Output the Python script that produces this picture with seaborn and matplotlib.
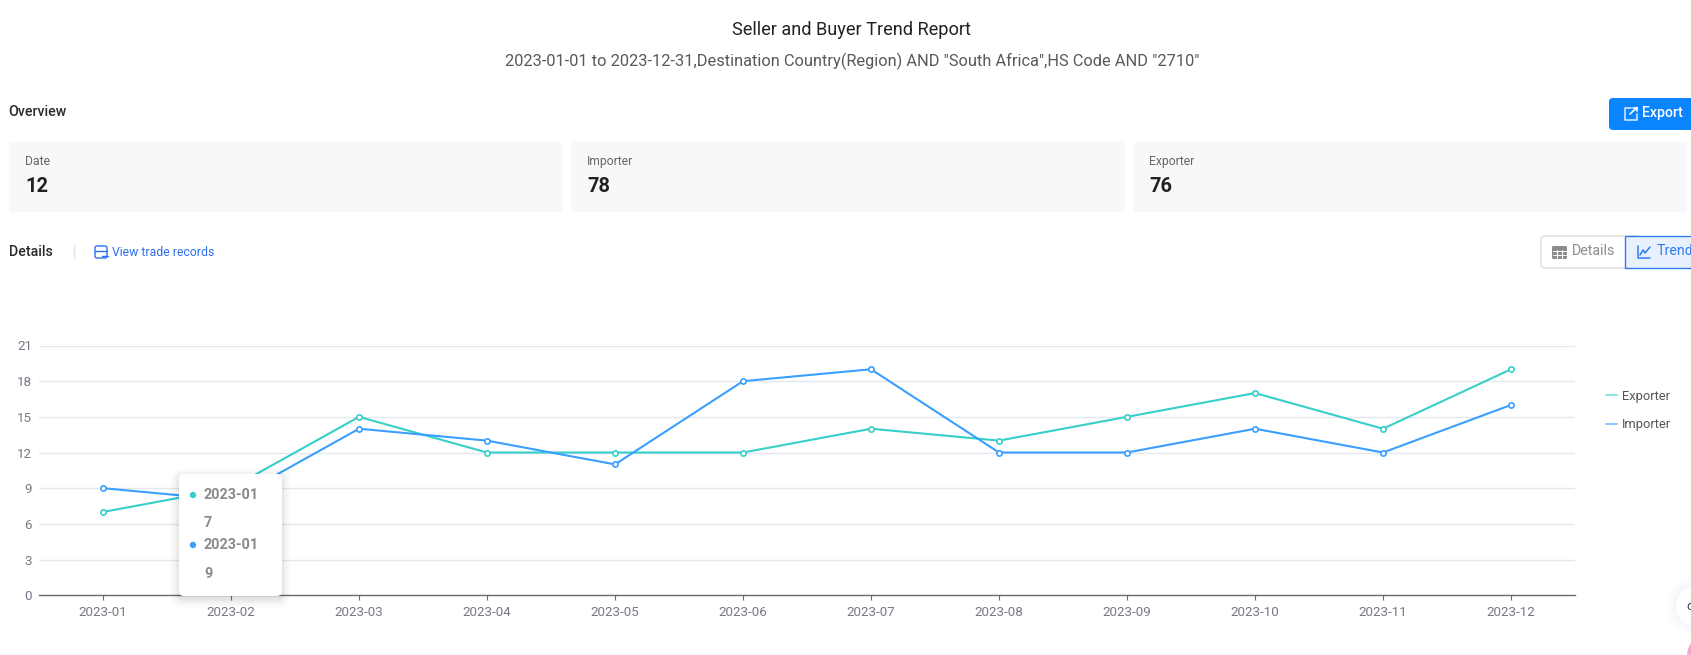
import matplotlib
matplotlib.use("Agg")
import matplotlib.pyplot as plt
from matplotlib.lines import Line2D
from matplotlib.patches import Circle, Ellipse, FancyBboxPatch, Rectangle
import pandas as pd
import seaborn as sns

months = ["2023-01", "2023-02", "2023-03", "2023-04", "2023-05", "2023-06",
          "2023-07", "2023-08", "2023-09", "2023-10", "2023-11", "2023-12"]
exporter = [7, 9, 15, 12, 12, 12, 14, 13, 15, 17, 14, 19]
importer = [9, 8, 14, 13, 11, 18, 19, 12, 12, 14, 12, 16]
y_ticks = [0, 3, 6, 9, 12, 15, 18, 21]
card_labels = ["Date", "Importer", "Exporter"]
card_values = ["12", "78", "76"]

WIDTH, HEIGHT = 1691, 655
TEAL = "#36cfc9"
BLUE = "#3a9fff"
GRID = "#e4e7f0"
AXIS_TEXT = "#777a85"

sns.set_theme(style="white")
plt.rcParams["font.family"] = ["Roboto", "DejaVu Sans"]

fig = plt.figure(figsize=(WIDTH / 100, HEIGHT / 100), dpi=100, facecolor="white")

# Chart area, placed in pixels
left, right, top, bottom = 39, 1575, 345.5, 595.2
ax = fig.add_axes([left / WIDTH, 1 - bottom / HEIGHT,
                   (right - left) / WIDTH, (bottom - top) / HEIGHT])

df = pd.DataFrame({
    "month": months * 2,
    "count": exporter + importer,
    "series": ["Exporter"] * len(exporter) + ["Importer"] * len(importer),
})
sns.lineplot(data=df, x="month", y="count", hue="series", sort=False, errorbar=None,
             hue_order=["Exporter", "Importer"], palette=[TEAL, BLUE],
             marker="o", markersize=3.8, linewidth=1.5, ax=ax, legend=False)
for line in ax.lines:
    line.set_markerfacecolor("white")
    line.set_markeredgecolor(line.get_color())
    line.set_markeredgewidth(1.2)
    line.set_zorder(3)

ax.set_xlim(-0.5, len(months) - 0.5)
ax.set_ylim(y_ticks[0], y_ticks[-1])
ax.set_yticks(y_ticks)
ax.set_xlabel("")
ax.set_ylabel("")
ax.grid(axis="y", color=GRID, linewidth=1)
ax.set_axisbelow(True)
for name in ["top", "left", "right"]:
    ax.spines[name].set_visible(False)
ax.spines["bottom"].set_color("#6a6c74")
ax.spines["bottom"].set_linewidth(1)
ax.tick_params(axis="x", length=3.5, width=0.8, color="#6a6c74", labelcolor=AXIS_TEXT,
               labelsize=9.6, pad=4, bottom=True)
ax.tick_params(axis="y", length=0, labelcolor=AXIS_TEXT, labelsize=9.6, pad=5)

legend_handles = [Line2D([], [], color=TEAL, alpha=0.55, linewidth=1.5),
                  Line2D([], [], color=BLUE, alpha=0.55, linewidth=1.5)]
ax.legend(legend_handles, ["Exporter", "Importer"], loc="upper left", frameon=False,
          bbox_to_anchor=(1603 / WIDTH, 1 - 387 / HEIGHT), bbox_transform=fig.transFigure,
          handlelength=0.85, handletextpad=0.42, labelspacing=1.2,
          fontsize=9.3, labelcolor="#555555", borderpad=0.2, borderaxespad=0)

# Page furniture on a full figure overlay, in pixel coordinates
ui = fig.add_axes([0, 0, 1, 1], zorder=5)
ui.set_xlim(0, WIDTH)
ui.set_ylim(HEIGHT, 0)
ui.axis("off")


def box(x0, y0, x1, y1, radius=4, **kwargs):
    patch = FancyBboxPatch((x0 + radius, y0 + radius), x1 - x0 - 2 * radius, y1 - y0 - 2 * radius,
                           boxstyle=f"round,pad={radius},rounding_size={radius}", **kwargs)
    ui.add_patch(patch)
    return patch


def polyline(xs, ys, color, lw=1.0):
    ui.plot(xs, ys, color=color, linewidth=lw, solid_capstyle="round", solid_joinstyle="round")


ui.text(852, 30, "Seller and Buyer Trend Report", ha="center", va="center",
        fontsize=13.1, color="#222222")
ui.text(852, 61, '2023-01-01 to 2023-12-31,Destination Country(Region) AND "South Africa",HS Code AND "2710"',
        ha="center", va="center", fontsize=11.8, color="#595959")
ui.text(8, 112, "Overview", va="center", fontsize=10.2, color="#2a2a2a", fontweight="medium")

# Overview cards
card_spans = [(9, 563), (571, 1125), (1133, 1687)]
for (x0, x1), label, value in zip(card_spans, card_labels, card_values):
    box(x0, 142, x1, 212, radius=4, facecolor="#f8f8fa", edgecolor="none")
    ui.text(x0 + 16, 165, label, va="baseline", fontsize=8.7, color="#666666")
    ui.text(x0 + 16, 187, value, va="center", fontsize=14.4, color="#222222", fontweight="semibold")

# Export button
box(1609, 98, 1720, 130, radius=4, facecolor="#0a84ff", edgecolor="none")
ui.text(1642, 113, "Export", va="center", fontsize=10.2, color="white", fontweight="medium")
polyline([1631, 1625, 1625, 1637, 1637], [108, 108, 120, 120, 114], "#cfe6ff", 1.2)
polyline([1630, 1637], [114, 107.5], "white", 1.2)
polyline([1633, 1637, 1637], [107.5, 107.5, 111], "white", 1.2)

# Details heading
ui.text(8.5, 252, "Details", va="center", fontsize=10.2, color="#2a2a2a", fontweight="medium")
ui.plot([73.5, 73.5], [245, 258], color="#e3e3e3", linewidth=1)
ui.text(112, 252, "View trade records", va="center", fontsize=8.8, color="#2f6fed")
box(95, 246, 107, 258, radius=2, facecolor="none", edgecolor="#2f6fed", linewidth=1)
polyline([95, 107], [250.5, 250.5], "#2f6fed", 1)
polyline([102, 108], [256, 256], "#2f6fed", 1)

# Details / Trend toggle
box(1541, 236, 1640, 268, radius=4, facecolor="white", edgecolor="#dcdcdc", linewidth=1)
ui.add_patch(Rectangle((1625, 236), 80, 32, facecolor="#e8f0fe", edgecolor="#2f7bf0", linewidth=1))
ui.text(1572, 251, "Details", va="center", fontsize=10.2, color="#8c8c8c")
ui.text(1657, 251, "Trend", va="center", fontsize=10.2, color="#2f7bf0", clip_on=True)
box(1552, 246, 1567, 259, radius=1.5, facecolor="#8c8c8c", edgecolor="none")
for gx in [1557, 1562]:
    ui.plot([gx, gx], [250, 258], color="white", linewidth=0.7)
for gy in [250.5, 254.5]:
    ui.plot([1553, 1566], [gy, gy], color="white", linewidth=0.7)
polyline([1638, 1638, 1650], [246, 258, 258], "#2f7bf0", 1.1)
polyline([1640, 1643, 1645, 1650], [255, 250, 253, 247], "#2f7bf0", 1.1)

# Tooltip with a soft shadow
for grow, alpha in [(9, 0.012), (7, 0.015), (5, 0.02), (3, 0.025), (1.5, 0.03)]:
    box(179 - grow, 474 - grow + 3, 282 + grow, 596 + grow + 3, radius=5 + grow,
        facecolor="black", edgecolor="none", alpha=alpha)
box(179, 474, 282, 596, radius=5, facecolor="white", edgecolor="none")
tooltip_rows = [(495, 523, TEAL, months[0], exporter[0]), (545, 574, BLUE, months[0], importer[0])]
for y_name, y_value, color, name, value in tooltip_rows:
    ui.add_patch(Circle((193, y_name), 3.2, facecolor=color, edgecolor="none"))
    ui.text(204, y_name, name, va="center", fontsize=10.4, color="#8a8a8a", fontweight="semibold")
    ui.text(204, y_value, str(value), va="center", fontsize=10.4, color="#8a8a8a", fontweight="semibold")

# Floating widgets cut by the right edge
for grow, alpha in [(10, 0.012), (7, 0.015), (4, 0.02), (2, 0.025)]:
    ui.add_patch(Circle((1697, 606), 21 + grow, facecolor="#8fa3e8", edgecolor="none", alpha=alpha))
ui.add_patch(Circle((1697, 606), 21, facecolor="white", edgecolor="none"))
ui.text(1686, 606, "d", va="center", fontsize=9.5, color="#444455")
ui.add_patch(Ellipse((1700, 656), 26, 36, facecolor="#f8a8cc", edgecolor="none"))

fig.savefig("out.png", dpi=100)
